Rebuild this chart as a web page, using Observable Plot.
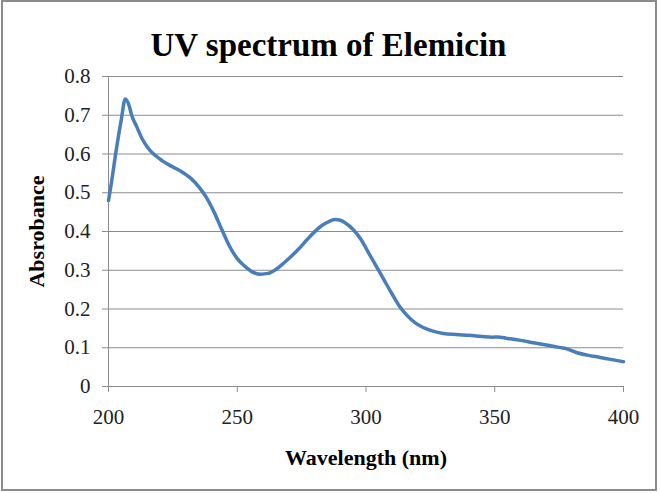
<!DOCTYPE html>
<html>
<head>
<meta charset="utf-8">
<script src="https://cdn.jsdelivr.net/npm/d3@7"></script>
<script src="https://cdn.jsdelivr.net/npm/@observablehq/plot@0.6"></script>
<style>
  html, body { margin: 0; padding: 0; background: #fff; }
  #wrap { position: relative; width: 661px; height: 493px; overflow: hidden; background: #fff; }
  #border { position: absolute; left: 1px; top: 0px; width: 652px; height: 487px; border: 2px solid #8c8c8c; pointer-events: none; }
  #title { height: 33px; padding-top: 29px; line-height: 33px; text-align: center; font-family: "Liberation Serif", "Times New Roman", serif; font-weight: bold; font-size: 33px; color: #000; padding-right: 4px; }
  #chart svg { display: block; }
  #chart svg text { font-family: "Liberation Serif", "Times New Roman", serif; }
</style>
</head>
<body>
<div id="wrap">
  <div id="title">UV spectrum of Elemicin</div>
  <div id="chart"></div>
  <div id="border"></div>
</div>
<script>
const wavelength = [200, 201, 203, 205, 206.5, 208, 209, 211, 213, 216, 220, 224, 228, 232, 235, 238, 241, 244, 247, 250, 253, 256, 259, 262, 265, 268, 271, 274, 277, 280, 283, 286, 288, 290, 292, 295, 298, 301, 304, 307, 310, 313, 316, 319, 322, 326, 330, 335, 340, 345, 349, 351, 355, 360, 365, 370, 375, 378, 382, 386, 391, 395, 400];
const absorbance = [0.48, 0.52, 0.61, 0.69, 0.742, 0.725, 0.70, 0.67, 0.64, 0.61, 0.587, 0.57, 0.556, 0.537, 0.516, 0.488, 0.45, 0.405, 0.362, 0.33, 0.31, 0.295, 0.29, 0.292, 0.302, 0.318, 0.336, 0.356, 0.378, 0.399, 0.416, 0.427, 0.431, 0.429, 0.422, 0.405, 0.38, 0.345, 0.31, 0.275, 0.24, 0.207, 0.183, 0.165, 0.153, 0.143, 0.137, 0.134, 0.132, 0.129, 0.127, 0.128, 0.124, 0.119, 0.113, 0.107, 0.101, 0.097, 0.087, 0.081, 0.075, 0.07, 0.064];
const xTicks = [200, 250, 300, 350, 400];
const yTicks = [0, 0.1, 0.2, 0.3, 0.4, 0.5, 0.6, 0.7, 0.8];
const xLabel = "Wavelength (nm)";
const yLabel = "Absrobance";

const data = wavelength.map((w, i) => ({w, a: absorbance[i]}));
const gray = "#8c8c8c";
const serif = "'Liberation Serif', 'Times New Roman', serif";

const chart = Plot.plot({
  width: 661,
  height: 431,
  marginLeft: 108,
  marginRight: 38,
  marginTop: 14,
  marginBottom: 107,
  style: { fontFamily: serif, background: "transparent" },
  x: { domain: [200, 400] },
  y: { domain: [0, 0.8] },
  marks: [
    Plot.gridY(yTicks, { stroke: gray, strokeOpacity: 1, strokeWidth: 1 }),
    Plot.ruleX([200], { y1: 0, y2: 0.8, stroke: gray, strokeWidth: 1 }),
    Plot.axisY(yTicks, { tickSize: 6, tickPadding: 12, fontSize: 21, fontFamily: serif, stroke: gray, fill: "#222", tickFormat: d => String(d), label: null }),
    Plot.axisX(xTicks, { tickSize: 6, tickPadding: 17, fontSize: 21, fontFamily: serif, stroke: gray, fill: "#222", tickFormat: d => String(d), label: null }),
    Plot.line(data, { x: "w", y: "a", stroke: "#4a7ebb", strokeWidth: 3.5, curve: "monotone-x" }),
    Plot.text([xLabel], { frameAnchor: "bottom", dy: 71, lineAnchor: "middle", textAnchor: "middle", fontSize: 22, fontFamily: serif, fontWeight: "bold", fill: "#000" }),
    Plot.text([yLabel], { frameAnchor: "left", dx: -72, rotate: -90, textAnchor: "middle", lineAnchor: "middle", fontSize: 22, fontFamily: serif, fontWeight: "bold", fill: "#000" })
  ]
});
document.getElementById("chart").appendChild(chart);
</script>
</body>
</html>
